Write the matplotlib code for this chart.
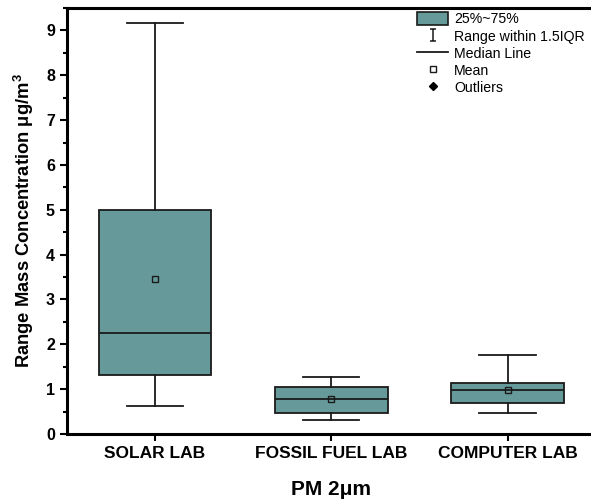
import matplotlib
matplotlib.use('Agg')
import matplotlib.pyplot as plt
from matplotlib.path import Path
from matplotlib.patches import Patch
from matplotlib.lines import Line2D
from matplotlib.ticker import MultipleLocator

plt.rcParams['font.family'] = ['Liberation Sans', 'DejaVu Sans']

labs = ['SOLAR LAB', 'FOSSIL FUEL LAB', 'COMPUTER LAB']
whis_lo = [0.63, 0.32, 0.47]
q1 = [1.32, 0.46, 0.70]
med = [2.25, 0.77, 0.98]
mean = [3.46, 0.77, 0.97]
q3 = [5.00, 1.04, 1.14]
whis_hi = [9.17, 1.28, 1.77]

box_col = '#669999'

stats = []
for i in range(3):
    stats.append({'label': labs[i], 'whislo': whis_lo[i], 'q1': q1[i], 'med': med[i],
                  'mean': mean[i], 'q3': q3[i], 'whishi': whis_hi[i], 'fliers': []})

fig = plt.figure(figsize=(5.91, 5.04), dpi=100)
ax = fig.add_axes([0.113, 0.139, 0.895, 0.845])

ax.bxp(stats, positions=[1, 2, 3], widths=0.64, patch_artist=True, showmeans=True,
       showfliers=False,
       boxprops=dict(facecolor=box_col, edgecolor='#1a1a1a', linewidth=1.3),
       medianprops=dict(color='#1a1a1a', linewidth=1.3),
       whiskerprops=dict(color='#1a1a1a', linewidth=1.3),
       capprops=dict(color='#1a1a1a', linewidth=1.3),
       capwidths=0.32,
       meanprops=dict(marker='s', markerfacecolor='none', markeredgecolor='#1a1a1a',
                      markersize=4, markeredgewidth=1))

ax.set_xlim(0.5, 3.5)
ax.set_ylim(0, 9.5)
ax.yaxis.set_major_locator(MultipleLocator(1))
ax.yaxis.set_minor_locator(MultipleLocator(0.5))
ax.tick_params(axis='both', which='major', direction='out', length=5, width=1.5)
ax.tick_params(axis='y', which='minor', direction='out', length=3, width=1.5)
ax.tick_params(axis='y', labelsize=11.5)
ax.tick_params(axis='x', labelsize=12.5)
for lbl in ax.get_xticklabels() + ax.get_yticklabels():
    lbl.set_fontweight('bold')
for s in ax.spines.values():
    s.set_linewidth(2.2)

ax.set_ylabel('Range Mass Concentration μg/m$^\\mathregular{3}$', fontsize=13.2,
              fontweight='bold')
ax.yaxis.set_label_coords(-0.058, 0.5)
ax.set_xlabel('PM 2μm', fontsize=15, fontweight='bold', labelpad=14)

# legend handles
ibar = Path([(-0.6, -1), (0.6, -1), (0, -1), (0, 1), (-0.6, 1), (0.6, 1)],
            [Path.MOVETO, Path.LINETO, Path.MOVETO, Path.LINETO, Path.MOVETO, Path.LINETO])
handles = [
    Patch(facecolor=box_col, edgecolor='#1a1a1a', linewidth=1.2),
    Line2D([], [], linestyle='none', marker=ibar, markersize=8, color='#1a1a1a',
           markeredgewidth=1.1),
    Line2D([], [], color='#1a1a1a', linewidth=1.3),
    Line2D([], [], linestyle='none', marker='s', markersize=4, markerfacecolor='none',
           markeredgecolor='#1a1a1a'),
    Line2D([], [], linestyle='none', marker='D', markersize=4.5, color='black'),
]
names = ['25%~75%', 'Range within 1.5IQR', 'Median Line', 'Mean', 'Outliers']
ax.legend(handles, names, loc='upper right', bbox_to_anchor=(0.995, 1.01), frameon=False,
          fontsize=10.2, handlelength=2.2, handleheight=1.0, labelspacing=0.2,
          handletextpad=0.4, borderaxespad=0.2)

fig.savefig('out.png', dpi=100)
